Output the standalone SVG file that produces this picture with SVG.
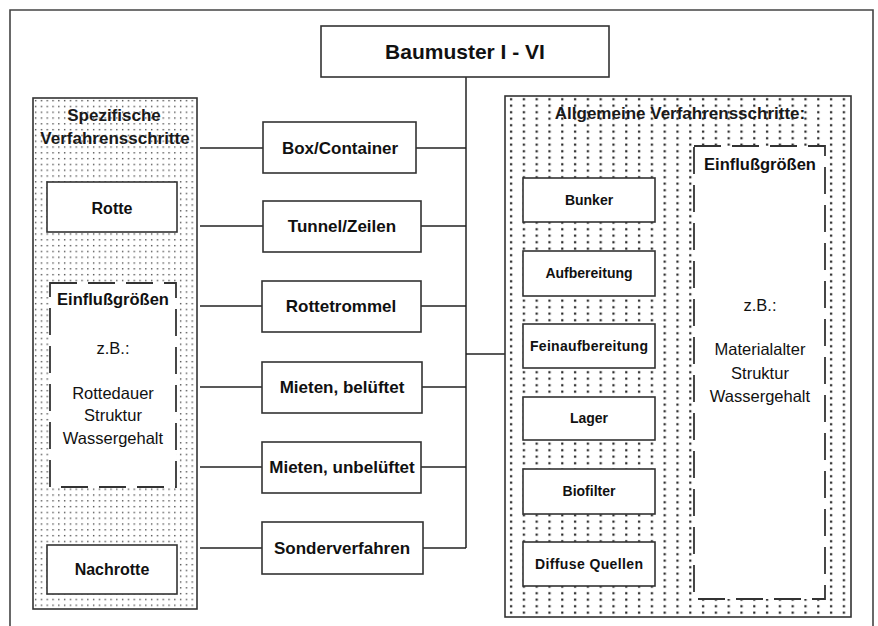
<svg xmlns="http://www.w3.org/2000/svg" width="878" height="626" viewBox="0 0 878 626">
  <defs>
    <!-- fine dot grid for the left column -->
    <pattern id="dotsFine" x="33" y="98" width="5.8" height="5.8" patternUnits="userSpaceOnUse">
      <rect x="2" y="2" width="1.3" height="1.3" fill="#333"/>
    </pattern>
    <!-- coarser column dots for the right column -->
    <pattern id="dotsCoarse" x="505" y="96" width="12.8" height="6.5" patternUnits="userSpaceOnUse">
      <rect x="5" y="2.2" width="2.2" height="2" fill="#111"/>
    </pattern>
    <style>
      .box { fill: #fff; stroke: #333; stroke-width: 1.6; }
      .dash { fill: #fff; stroke: #333; stroke-width: 1.8; stroke-dasharray: 27 11; }
      .wire { fill: none; stroke: #222; stroke-width: 1.5; }
      text { font-family: "Liberation Sans", Arial, sans-serif; fill: #111; text-anchor: middle; }
      .b { font-weight: bold; }
      .mid { font-size: 17px; font-weight: bold; }
      .small { font-size: 14px; font-weight: bold; }
      .head { font-size: 17px; font-weight: bold; fill: #1a1a1a; }
      .inf { font-size: 16.5px; font-weight: bold; }
      .note { font-size: 16.5px; }
    </style>
  </defs>

  <rect width="878" height="626" fill="#fff"/>

  <!-- outer frame, open at the bottom -->
  <path d="M10,626 V10 H873 V626" fill="none" stroke="#444" stroke-width="1.6"/>

  <!-- connectors -->
  <g id="connectors" class="wire">
    <line x1="466" y1="77" x2="466" y2="548"/>
    <line x1="466" y1="354" x2="505" y2="354"/>
    <line x1="200" y1="148" x2="263" y2="148"/><line x1="416" y1="148" x2="466" y2="148"/>
    <line x1="200" y1="226" x2="263" y2="226"/><line x1="421" y1="226" x2="466" y2="226"/>
    <line x1="200" y1="306" x2="262" y2="306"/><line x1="421" y1="306" x2="466" y2="306"/>
    <line x1="200" y1="387" x2="262" y2="387"/><line x1="422" y1="387" x2="466" y2="387"/>
    <line x1="200" y1="467" x2="262" y2="467"/><line x1="421" y1="467" x2="466" y2="467"/>
    <line x1="200" y1="548" x2="262" y2="548"/><line x1="423" y1="548" x2="466" y2="548"/>
  </g>

  <!-- top node -->
  <g id="baumuster">
    <rect class="box" x="321" y="26" width="288" height="51"/>
    <text class="b" x="465" y="59" font-size="21">Baumuster I - VI</text>
  </g>

  <!-- left column: specific process steps -->
  <g id="spezifisch">
    <rect x="33" y="98" width="164" height="511" fill="#fff" stroke="#333" stroke-width="1.6"/>
    <rect x="33" y="98" width="164" height="511" fill="url(#dotsFine)"/>
    <text class="head" x="114" y="121">Spezifische</text>
    <text class="head" x="115" y="144">Verfahrensschritte</text>
  </g>
  <g id="rotte">
    <rect class="box" x="47" y="182" width="130" height="50"/>
    <text class="b" x="112" y="214" font-size="16">Rotte</text>
  </g>
  <g id="einfluss-links">
    <rect class="dash" x="50" y="283" width="126" height="204"/>
    <text class="inf" x="113" y="305">Einflußgrößen</text>
    <text class="note" x="113" y="354">z.B.:</text>
    <text class="note" x="113" y="399">Rottedauer</text>
    <text class="note" x="113" y="421">Struktur</text>
    <text class="note" x="113" y="444">Wassergehalt</text>
  </g>
  <g id="nachrotte">
    <rect class="box" x="47" y="545" width="130" height="49"/>
    <text class="b" x="112" y="575" font-size="16">Nachrotte</text>
  </g>

  <!-- middle column: construction types -->
  <g id="box-container">
    <rect class="box" x="263" y="122" width="153" height="51"/>
    <text class="mid" x="340" y="154">Box/Container</text>
  </g>
  <g id="tunnel-zeilen">
    <rect class="box" x="263" y="201" width="158" height="51"/>
    <text class="mid" x="342" y="232">Tunnel/Zeilen</text>
  </g>
  <g id="rottetrommel">
    <rect class="box" x="262" y="281" width="159" height="51"/>
    <text class="mid" x="341" y="312">Rottetrommel</text>
  </g>
  <g id="mieten-belueftet">
    <rect class="box" x="262" y="362" width="160" height="51"/>
    <text class="mid" x="342" y="393">Mieten, belüftet</text>
  </g>
  <g id="mieten-unbelueftet">
    <rect class="box" x="262" y="442" width="159" height="51"/>
    <text class="mid" x="342" y="473">Mieten, unbelüftet</text>
  </g>
  <g id="sonderverfahren">
    <rect class="box" x="262" y="522" width="161" height="52"/>
    <text class="mid" x="342" y="554">Sonderverfahren</text>
  </g>

  <!-- right column: general process steps -->
  <g id="allgemein">
    <rect x="505" y="96" width="346" height="521" fill="#fff" stroke="#333" stroke-width="1.6"/>
    <rect x="505" y="96" width="346" height="521" fill="url(#dotsCoarse)"/>
    <text class="head" x="680" y="119">Allgemeine Verfahrensschritte:</text>
  </g>
  <g id="bunker">
    <rect class="box" x="523" y="178" width="132" height="44"/>
    <text class="small" x="589" y="205">Bunker</text>
  </g>
  <g id="aufbereitung">
    <rect class="box" x="523" y="251" width="132" height="45"/>
    <text class="small" x="589" y="278">Aufbereitung</text>
  </g>
  <g id="feinaufbereitung">
    <rect class="box" x="523" y="324" width="132" height="44"/>
    <text class="small" x="589" y="351" textLength="118" lengthAdjust="spacing">Feinaufbereitung</text>
  </g>
  <g id="lager">
    <rect class="box" x="523" y="397" width="132" height="43"/>
    <text class="small" x="589" y="423">Lager</text>
  </g>
  <g id="biofilter">
    <rect class="box" x="523" y="469" width="132" height="45"/>
    <text class="small" x="589" y="496">Biofilter</text>
  </g>
  <g id="diffuse-quellen">
    <rect class="box" x="523" y="542" width="132" height="44"/>
    <text class="small" x="589" y="569" textLength="108" lengthAdjust="spacing">Diffuse Quellen</text>
  </g>
  <g id="einfluss-rechts">
    <rect class="dash" x="694" y="146" width="131" height="453"/>
    <text class="inf" x="760" y="170">Einflußgrößen</text>
    <text class="note" x="760" y="311">z.B.:</text>
    <text class="note" x="760" y="355">Materialalter</text>
    <text class="note" x="760" y="379">Struktur</text>
    <text class="note" x="760" y="402">Wassergehalt</text>
  </g>
</svg>
